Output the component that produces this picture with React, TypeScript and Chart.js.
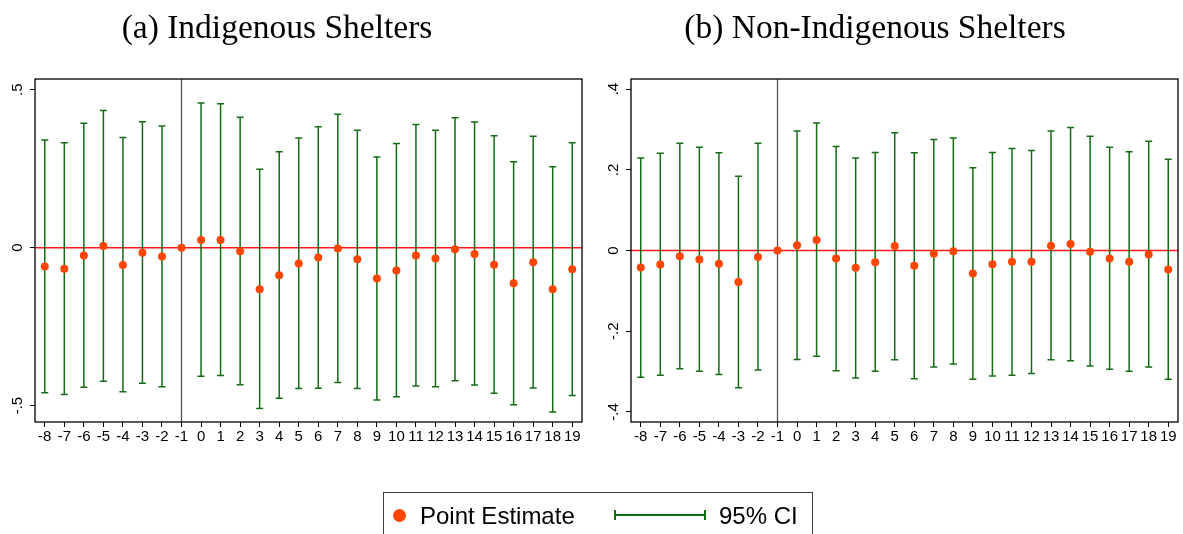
import React, { useEffect, useRef } from "react";
import { Chart, registerables } from "chart.js";

Chart.register(...registerables);

// Event-time periods relative to treatment (period -1 is the omitted reference)
const periods = [-8, -7, -6, -5, -4, -3, -2, -1, 0, 1, 2, 3, 4, 5, 6, 7, 8, 9, 10, 11, 12, 13, 14, 15, 16, 17, 18, 19];

// (a) Indigenous shelters
const indigEstimate = [-0.060, -0.067, -0.025, 0.005, -0.055, -0.016, -0.028, 0, 0.024, 0.024, -0.011, -0.132, -0.087, -0.050, -0.031, -0.003, -0.037, -0.098, -0.072, -0.025, -0.034, -0.005, -0.020, -0.054, -0.113, -0.046, -0.132, -0.068];
const indigUpper = [0.341, 0.332, 0.394, 0.434, 0.349, 0.399, 0.385, null, 0.458, 0.456, 0.413, 0.248, 0.304, 0.347, 0.383, 0.422, 0.372, 0.287, 0.330, 0.390, 0.372, 0.411, 0.398, 0.354, 0.272, 0.353, 0.256, 0.332];
const indigLower = [-0.459, -0.465, -0.442, -0.423, -0.456, -0.429, -0.440, null, -0.407, -0.405, -0.434, -0.509, -0.477, -0.446, -0.445, -0.427, -0.446, -0.482, -0.472, -0.438, -0.440, -0.421, -0.435, -0.461, -0.497, -0.444, -0.520, -0.468];
const indigYTicks = [-0.5, 0, 0.5];
const indigYLabels = ["-.5", "0", ".5"];

// (b) Non-Indigenous shelters
const nonIndigEstimate = [-0.042, -0.035, -0.014, -0.022, -0.033, -0.078, -0.016, 0, 0.013, 0.026, -0.020, -0.043, -0.029, 0.011, -0.038, -0.008, -0.002, -0.057, -0.034, -0.028, -0.028, 0.012, 0.016, -0.003, -0.020, -0.028, -0.010, -0.047];
const nonIndigUpper = [0.229, 0.241, 0.266, 0.256, 0.242, 0.184, 0.266, null, 0.296, 0.316, 0.258, 0.229, 0.243, 0.292, 0.242, 0.275, 0.279, 0.205, 0.243, 0.253, 0.248, 0.296, 0.305, 0.283, 0.256, 0.245, 0.271, 0.226];
const nonIndigLower = [-0.314, -0.309, -0.293, -0.299, -0.307, -0.340, -0.296, null, -0.270, -0.262, -0.298, -0.316, -0.299, -0.271, -0.318, -0.289, -0.281, -0.319, -0.311, -0.309, -0.305, -0.271, -0.273, -0.286, -0.294, -0.299, -0.289, -0.319];
const nonIndigYTicks = [-0.4, -0.2, 0, 0.2, 0.4];
const nonIndigYLabels = ["-.4", "-.2", "0", ".2", ".4"];

const EVENT_PERIOD = -1;
const ESTIMATE_COLOR = "#ff4500";
const CI_COLOR = "#146c14";
const SANS = '"Liberation Sans", Arial, sans-serif';
const SERIF = '"Liberation Serif", "Times New Roman", serif';

const PAGE_W = 1183;
const PAGE_H = 534;

type PanelProps = {
  left: number;
  width: number;
  plotLeft: number;
  plotRight: number;
  plotTop: number;
  plotBottom: number;
  yMin: number;
  yMax: number;
  yTicks: number[];
  yLabels: string[];
  estimate: number[];
  upper: (number | null)[];
  lower: (number | null)[];
  title: string;
  titleX: number;
};

function Panel(p: PanelProps) {
  const ref = useRef<HTMLCanvasElement | null>(null);

  useEffect(() => {
    if (!ref.current) return;
    const xAxisH = 40;

    const decor = {
      id: "panelDecor",
      beforeDatasetsDraw(chart: any) {
        const { ctx, chartArea: a, scales } = chart;
        const xs = scales.x;
        const ys = scales.y;
        ctx.save();
        // event line
        const xe = xs.getPixelForValue(EVENT_PERIOD);
        ctx.strokeStyle = "#555555";
        ctx.lineWidth = 1.3;
        ctx.beginPath();
        ctx.moveTo(xe, a.top);
        ctx.lineTo(xe, a.bottom);
        ctx.stroke();
        // zero line
        const y0 = ys.getPixelForValue(0);
        ctx.strokeStyle = "#ff1a1a";
        ctx.lineWidth = 1.5;
        ctx.beginPath();
        ctx.moveTo(a.left, y0);
        ctx.lineTo(a.right, y0);
        ctx.stroke();
        // confidence intervals with caps
        ctx.strokeStyle = CI_COLOR;
        ctx.lineWidth = 1.5;
        periods.forEach((per, i) => {
          const lo = p.lower[i];
          const hi = p.upper[i];
          if (lo == null || hi == null) return;
          const px = xs.getPixelForValue(per);
          const pl = ys.getPixelForValue(lo);
          const ph = ys.getPixelForValue(hi);
          ctx.beginPath();
          ctx.moveTo(px, pl);
          ctx.lineTo(px, ph);
          ctx.moveTo(px - 3.5, pl);
          ctx.lineTo(px + 3.5, pl);
          ctx.moveTo(px - 3.5, ph);
          ctx.lineTo(px + 3.5, ph);
          ctx.stroke();
        });
        ctx.restore();
      },
      afterDraw(chart: any) {
        const { ctx, chartArea: a, scales } = chart;
        const ys = scales.y;
        ctx.save();
        // plot frame
        ctx.strokeStyle = "#000";
        ctx.lineWidth = 1.3;
        ctx.strokeRect(a.left, a.top, a.right - a.left, a.bottom - a.top);
        // rotated y tick labels
        ctx.fillStyle = "#000";
        ctx.font = `15px ${SANS}`;
        ctx.textAlign = "center";
        ctx.textBaseline = "alphabetic";
        p.yTicks.forEach((v, i) => {
          const py = ys.getPixelForValue(v);
          ctx.save();
          ctx.translate(a.left - 13, py);
          ctx.rotate(-Math.PI / 2);
          ctx.fillText(p.yLabels[i], 0, 0);
          ctx.restore();
        });
        // panel title
        ctx.font = `33.5px ${SERIF}`;
        ctx.textAlign = "center";
        ctx.fillText(p.title, p.titleX, 38);
        ctx.restore();
      },
    };

    const chart = new Chart(ref.current, {
      type: "scatter",
      data: {
        datasets: [
          {
            label: "Point Estimate",
            data: periods.map((per, i) => ({ x: per, y: p.estimate[i] })),
            backgroundColor: ESTIMATE_COLOR,
            borderColor: ESTIMATE_COLOR,
            borderWidth: 0,
            pointRadius: 4,
          },
        ],
      },
      options: {
        responsive: false,
        maintainAspectRatio: false,
        animation: false,
        devicePixelRatio: 1,
        layout: {
          padding: {
            left: 0,
            top: p.plotTop,
            right: p.width - p.plotRight,
            bottom: PAGE_H - p.plotBottom - xAxisH,
          },
        },
        plugins: {
          legend: { display: false },
          tooltip: { enabled: false },
          title: { display: false },
        },
        scales: {
          x: {
            type: "linear",
            min: -8.5,
            max: 19.5,
            afterBuildTicks: (s: any) => {
              s.ticks = periods.map((v) => ({ value: v }));
            },
            afterFit: (s: any) => {
              s.height = xAxisH;
            },
            ticks: {
              autoSkip: false,
              maxRotation: 0,
              minRotation: 0,
              padding: 1,
              color: "#000",
              font: { family: SANS, size: 15 },
              callback: (v: any) => String(v),
            },
            grid: {
              display: true,
              drawOnChartArea: false,
              drawTicks: true,
              tickLength: 5,
              color: "#000",
              lineWidth: 1,
            },
            border: { display: false },
          },
          y: {
            type: "linear",
            min: p.yMin,
            max: p.yMax,
            afterBuildTicks: (s: any) => {
              s.ticks = p.yTicks.map((v) => ({ value: v }));
            },
            afterFit: (s: any) => {
              s.width = p.plotLeft;
            },
            ticks: { display: false },
            grid: {
              display: true,
              drawOnChartArea: false,
              drawTicks: true,
              tickLength: 5,
              color: "#000",
              lineWidth: 1,
            },
            border: { display: false },
          },
        },
      },
      plugins: [decor],
    } as any);

    return () => chart.destroy();
  }, []);

  return (
    <canvas
      ref={ref}
      width={p.width}
      height={PAGE_H}
      style={{ position: "absolute", left: p.left, top: 0, width: p.width, height: PAGE_H, display: "block" }}
    />
  );
}

export default function App() {
  return (
    <div
      style={{
        position: "absolute",
        left: 0,
        top: 0,
        width: PAGE_W,
        height: PAGE_H,
        overflow: "hidden",
        background: "#fff",
        fontFamily: SANS,
      }}
    >
      <Panel
        left={0}
        width={590}
        plotLeft={35}
        plotRight={582}
        plotTop={79}
        plotBottom={422}
        yMin={-0.552}
        yMax={0.534}
        yTicks={indigYTicks}
        yLabels={indigYLabels}
        estimate={indigEstimate}
        upper={indigUpper}
        lower={indigLower}
        title="(a) Indigenous Shelters"
        titleX={277}
      />
      <Panel
        left={590}
        width={593}
        plotLeft={41}
        plotRight={588}
        plotTop={79}
        plotBottom={422}
        yMin={-0.425}
        yMax={0.425}
        yTicks={nonIndigYTicks}
        yLabels={nonIndigYLabels}
        estimate={nonIndigEstimate}
        upper={nonIndigUpper}
        lower={nonIndigLower}
        title="(b) Non-Indigenous Shelters"
        titleX={285}
      />
      {/* legend */}
      <div
        style={{
          position: "absolute",
          left: 383,
          top: 492,
          width: 430,
          height: 60,
          border: "1px solid #3c3c3c",
          boxSizing: "border-box",
        }}
      />
      <div
        style={{
          position: "absolute",
          left: 392.5,
          top: 508.5,
          width: 13,
          height: 13,
          borderRadius: "50%",
          background: ESTIMATE_COLOR,
        }}
      />
      <div style={{ position: "absolute", left: 420, top: 504, fontSize: 24, lineHeight: "24px", color: "#000", whiteSpace: "nowrap" }}>
        Point Estimate
      </div>
      <svg style={{ position: "absolute", left: 612, top: 508 }} width={96} height={14}>
        <g stroke={CI_COLOR} strokeWidth={2} fill="none">
          <line x1={3} y1={7} x2={93} y2={7} />
          <line x1={3} y1={2} x2={3} y2={12} />
          <line x1={93} y1={2} x2={93} y2={12} />
        </g>
      </svg>
      <div style={{ position: "absolute", left: 719, top: 504, fontSize: 24, lineHeight: "24px", color: "#000", whiteSpace: "nowrap" }}>
        95% CI
      </div>
    </div>
  );
}
